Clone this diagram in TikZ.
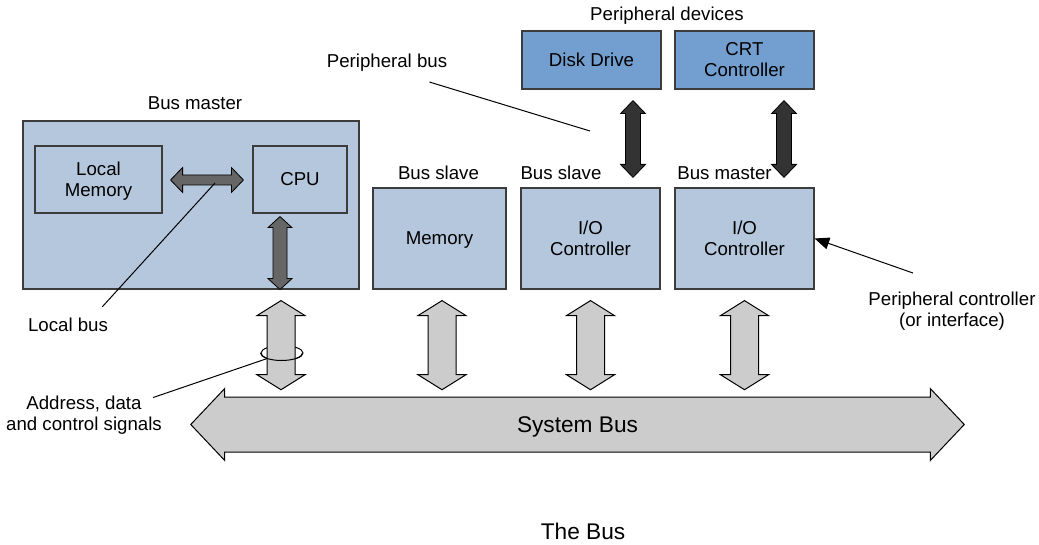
\documentclass[tikz,border=0pt]{standalone}
\usepackage{fontspec}
\setmainfont{Liberation Sans}
\usetikzlibrary{shapes.geometric}
\usetikzlibrary{calc}
\usetikzlibrary{arrows.meta}
\definecolor{boxblue}{RGB}{180, 199, 220}
\definecolor{devblue}{RGB}{114, 159, 207}
\definecolor{edgegray}{RGB}{60, 60, 60}
\definecolor{busgray}{RGB}{204, 204, 204}
\definecolor{localgray}{RGB}{102, 102, 102}
\definecolor{periphgray}{RGB}{51, 51, 51}

\newcommand{\vfat}[6]{%
\path[#1] let \p1=(#2), \p2=(#3) in
 (\x1,\y1) -- (\x1+#5*0.75pt,\y1-#6*0.75pt) -- (\x1+#4*0.75pt,\y1-#6*0.75pt)
 -- (\x1+#4*0.75pt,\y2+#6*0.75pt) -- (\x1+#5*0.75pt,\y2+#6*0.75pt) -- (\x1,\y2)
 -- (\x1-#5*0.75pt,\y2+#6*0.75pt) -- (\x1-#4*0.75pt,\y2+#6*0.75pt)
 -- (\x1-#4*0.75pt,\y1-#6*0.75pt) -- (\x1-#5*0.75pt,\y1-#6*0.75pt) -- cycle;}
\newcommand{\hfat}[6]{%
\path[#1] let \p1=(#2), \p2=(#3) in
 (\x1,\y1) -- (\x1+#6*0.75pt,\y1+#5*0.75pt) -- (\x1+#6*0.75pt,\y1+#4*0.75pt)
 -- (\x2-#6*0.75pt,\y1+#4*0.75pt) -- (\x2-#6*0.75pt,\y1+#5*0.75pt) -- (\x2,\y1)
 -- (\x2-#6*0.75pt,\y1-#5*0.75pt) -- (\x2-#6*0.75pt,\y1-#4*0.75pt)
 -- (\x1+#6*0.75pt,\y1-#4*0.75pt) -- (\x1+#6*0.75pt,\y1-#5*0.75pt) -- cycle;}

\begin{document}
\begin{tikzpicture}[x=0.75pt,y=-0.75pt,
  lbl/.style={font=\fontsize{14}{15.75}\selectfont, align=center, inner sep=0pt},
  flat/.style={text depth=0pt},
  biglbl/.style={font=\fontsize{17}{20}\selectfont, inner sep=0pt},
  unit/.style 2 args={draw=edgegray, line width=0.9pt, fill=boxblue,
    minimum width=#1*0.75pt, minimum height=#2*0.75pt, lbl},
  device/.style 2 args={unit={#1}{#2}, fill=devblue},
  localfat/.style={draw=black, line width=0.6pt, fill=localgray},
  periphfat/.style={draw=black, line width=0.6pt, fill=periphgray},
  sysfat/.style={draw=black, line width=0.75pt, fill=busgray},
  pointer/.style={draw=black, line width=0.75pt}]
\useasboundingbox (0,0) rectangle (1039,545);

\node[unit={336}{168}] (master) at (191,205) {};
\node[unit={127}{67}] (locmem) at (98.5,179.5) {};
\node[lbl] (locmemtext) at (98.5,181.5) {Local\\Memory};
\node[unit={94}{67}] (cpu) at (300,179.5) {CPU};
\node[unit={133}{101}, flat] (memory) at (439.5,238.5) {Memory};
\node[unit={139}{101}] (ioslave) at (590.5,238.5) {I/O\\Controller};
\node[unit={139}{101}] (iomaster) at (744.5,238.5) {I/O\\Controller};
\node[device={139}{58}] (disk) at (591.5,60) {Disk Drive};
\node[device={139}{58}] (crt) at (744.5,60) {CRT\\Controller};

\node[lbl] (mastertitle) at (195,103) {Bus master};
\node[lbl] (slavetitle) at (438.5,173) {Bus slave};
\node[lbl] (iotitle) at (561,173) {Bus slave};
\node[lbl] (iomastertitle) at (724.5,173) {Bus master};
\node[lbl, flat] (devtitle) at (667,14) {Peripheral devices};
\node[lbl, flat] (pbus) at (387,61) {Peripheral bus};
\node[lbl] (lbus) at (68,325) {Local bus};
\node[lbl] (addr) at (84,415) {Address, data\\and control signals};
\node[lbl] (pctl) at (952,311.5) {Peripheral controller\\(or interface)};
\node[biglbl] (caption) at (583,531) {The Bus};

\hfat{localfat}{$(locmem.east)+(8,0.5)$}{$(cpu.west)+(-9,0.5)$}{5}{12.5}{12}
\vfat{localfat}{$(cpu.south)+(-20,3)$}{$(master.south)+(89,0)$}{7}{12}{11}
\vfat{periphfat}{$(disk.south)+(41.5,11)$}{$(ioslave.north)+(42.5,-10)$}{7.5}{12.5}{13}
\vfat{periphfat}{$(crt.south)+(39.5,11)$}{$(iomaster.north)+(39.5,-10)$}{7.5}{12.5}{13}

\node[minimum width=705*0.75pt, minimum height=55*0.75pt, inner sep=0pt] (sysbus) at (577.5,424.5) {};
\hfat{sysfat}{$(sysbus.west)+(-34,0)$}{$(sysbus.east)+(34,0)$}{27.5}{36}{34}
\node[biglbl, flat] (sysbustext) at (sysbus) {System Bus};

\node[ellipse, draw, line width=0.75pt, minimum width=42*0.75pt, minimum height=15*0.75pt, inner sep=0pt] (ring) at (282,353) {};
\vfat{sysfat}{$(master.south)+(90,11)$}{$(sysbus.north -| cpu.south)+(-19,-7)$}{14}{24}{15}
\vfat{sysfat}{$(memory.south)+(2.5,11)$}{$(sysbus.north -| memory.south)+(2.5,-7)$}{14}{24}{15}
\vfat{sysfat}{$(ioslave.south)+(0,11)$}{$(sysbus.north -| ioslave.south)+(0,-7)$}{14}{24}{15}
\vfat{sysfat}{$(iomaster.south)+(0,11)$}{$(sysbus.north -| iomaster.south)+(0,-7)$}{14}{24}{15}
\draw[line width=0.75pt] (ring.west) arc[start angle=180, end angle=360, x radius=15.75pt, y radius=5.625pt];

\coordinate (lbtap) at (215,183);
\coordinate (pbtap) at (590,131);
\draw[pointer] ($(lbus.north east)+(-6,-11)$) -- (lbtap);
\draw[pointer] ($(addr.north east)+(-9,2)$) -- (ring.south west);
\draw[pointer] ($(pbus.south east)+(-18,14)$) -- (pbtap);
\draw[pointer, -{Triangle[length=11pt, width=9pt]}] ($(pctl.north)+(-39,-19)$) -- (iomaster.east);
\end{tikzpicture}
\end{document}
